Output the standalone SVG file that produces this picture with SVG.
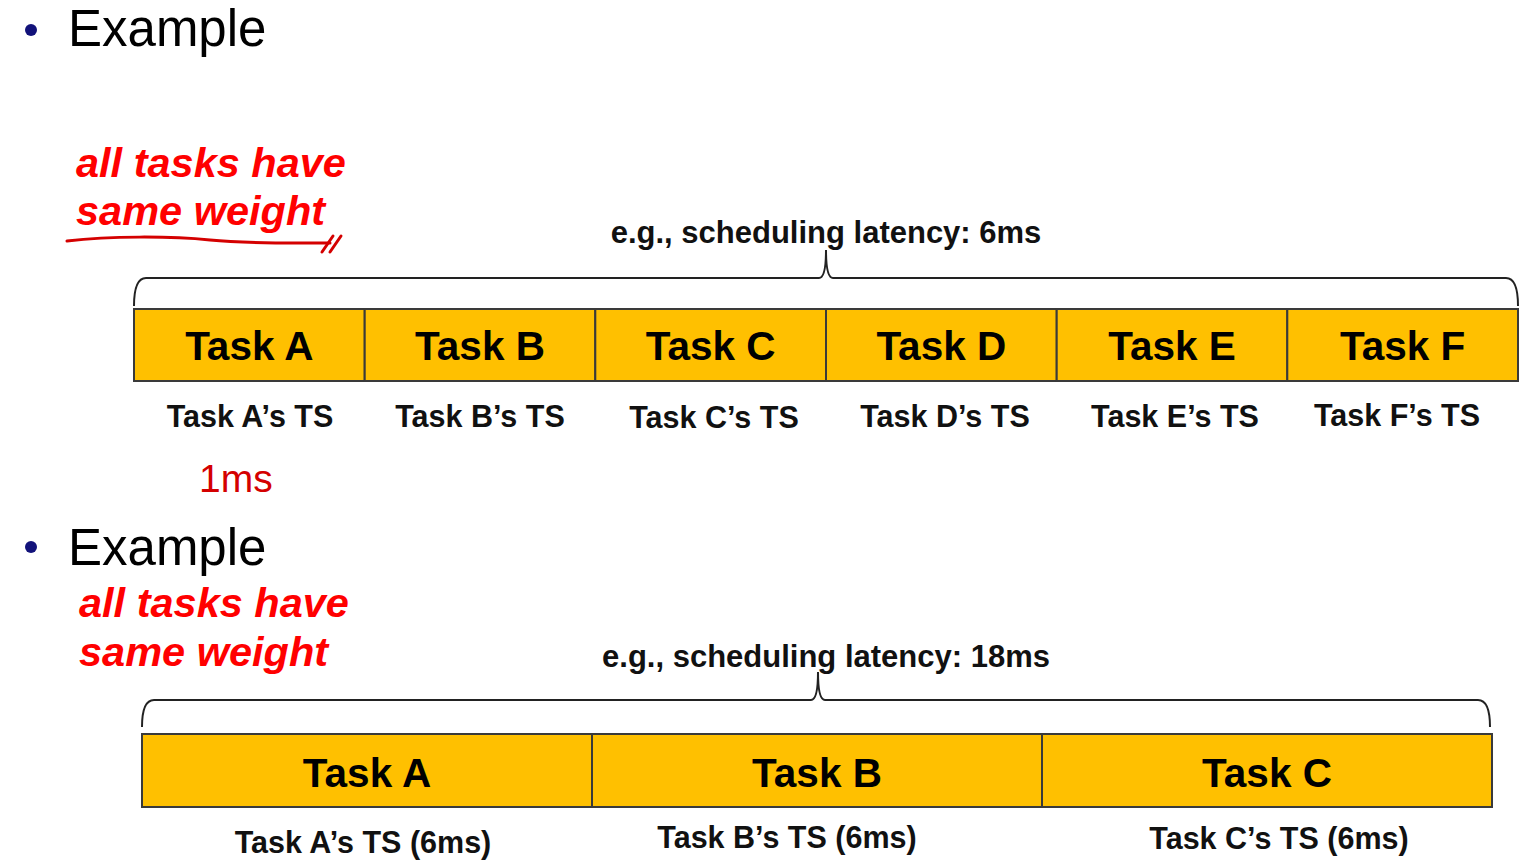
<svg xmlns="http://www.w3.org/2000/svg" width="1530" height="867" viewBox="0 0 1530 867">
<style>
.head{font-family:"Liberation Sans",Arial,sans-serif;font-size:51px;fill:#000}
.red{font-family:"Liberation Sans",Arial,sans-serif;font-size:41.5px;font-weight:bold;font-style:italic;fill:#ff0000}
.lat{font-family:"Liberation Sans",Arial,sans-serif;font-size:31px;font-weight:bold;fill:#111;text-anchor:middle}
.cell{fill:#ffc000;stroke:#3a3a3a;stroke-width:2}
.tname{font-family:"Liberation Sans",Arial,sans-serif;font-size:40.5px;font-weight:bold;fill:#000;text-anchor:middle}
.ts{font-family:"Liberation Sans",Arial,sans-serif;font-size:30.5px;font-weight:bold;fill:#111;text-anchor:middle}
.brace{fill:none;stroke:#222;stroke-width:2}
.ink{fill:none;stroke:#d40000;stroke-width:3;stroke-linecap:round;stroke-linejoin:round}
</style>
<rect width="1530" height="867" fill="#fff"/>

<g id="section1">
  <circle cx="31" cy="30" r="6" fill="#12127a"/>
  <text class="head" x="68" y="46">Example</text>
  <text class="red" x="76" y="177">all tasks have</text>
  <text class="red" x="76" y="225">same weight</text>
  <path class="ink" d="M67,241 C110,236 170,236 210,240 C250,244 290,243 330,243"/>
  <path class="ink" d="M322,252 L333,236 M330,252 L341,236"/>
  <text x="199" y="492" font-family="'Liberation Sans',Arial,sans-serif" font-size="39" fill="#d40000">1ms</text>
</g>

<g id="connectors">
  <path class="brace" d="M134,306 Q134,278 146,278 L819,278 Q826,278 826,250 Q826,278 833,278 L1506,278 Q1518,278 1518,306"/>
  <path class="brace" d="M142,727 Q142,700 154,700 L811,700 Q818,700 818,672 Q818,700 825,700 L1478,700 Q1490,700 1490,727"/>
</g>

<text class="lat" x="826" y="243">e.g., scheduling latency: 6ms</text>

<g id="taskA1"><rect class="cell" x="134" y="309" width="230.7" height="72"/><text class="tname" x="249.3" y="360">Task A</text><text class="ts" x="250" y="427">Task A’s TS</text></g>
<g id="taskB1"><rect class="cell" x="364.7" y="309" width="230.6" height="72"/><text class="tname" x="480" y="360">Task B</text><text class="ts" x="480" y="427">Task B’s TS</text></g>
<g id="taskC1"><rect class="cell" x="595.3" y="309" width="230.7" height="72"/><text class="tname" x="710.7" y="360">Task C</text><text class="ts" x="714" y="428">Task C’s TS</text></g>
<g id="taskD1"><rect class="cell" x="826" y="309" width="230.7" height="72"/><text class="tname" x="941.3" y="360">Task D</text><text class="ts" x="945" y="427">Task D’s TS</text></g>
<g id="taskE1"><rect class="cell" x="1056.7" y="309" width="230.6" height="72"/><text class="tname" x="1172" y="360">Task E</text><text class="ts" x="1175" y="427">Task E’s TS</text></g>
<g id="taskF1"><rect class="cell" x="1287.3" y="309" width="230.7" height="72"/><text class="tname" x="1402.7" y="360">Task F</text><text class="ts" x="1397" y="426">Task F’s TS</text></g>

<g id="section2">
  <circle cx="31" cy="547" r="6" fill="#12127a"/>
  <text class="head" x="68" y="565">Example</text>
  <text class="red" x="79" y="617">all tasks have</text>
  <text class="red" x="79" y="666">same weight</text>
</g>

<text class="lat" x="826" y="667">e.g., scheduling latency: 18ms</text>

<g id="taskA2"><rect class="cell" x="142" y="734" width="450" height="73"/><text class="tname" x="367" y="787">Task A</text><text class="ts" x="363" y="853">Task A’s TS (6ms)</text></g>
<g id="taskB2"><rect class="cell" x="592" y="734" width="450" height="73"/><text class="tname" x="817" y="787">Task B</text><text class="ts" x="787" y="848">Task B’s TS (6ms)</text></g>
<g id="taskC2"><rect class="cell" x="1042" y="734" width="450" height="73"/><text class="tname" x="1267" y="787">Task C</text><text class="ts" x="1279" y="849">Task C’s TS (6ms)</text></g>
</svg>
